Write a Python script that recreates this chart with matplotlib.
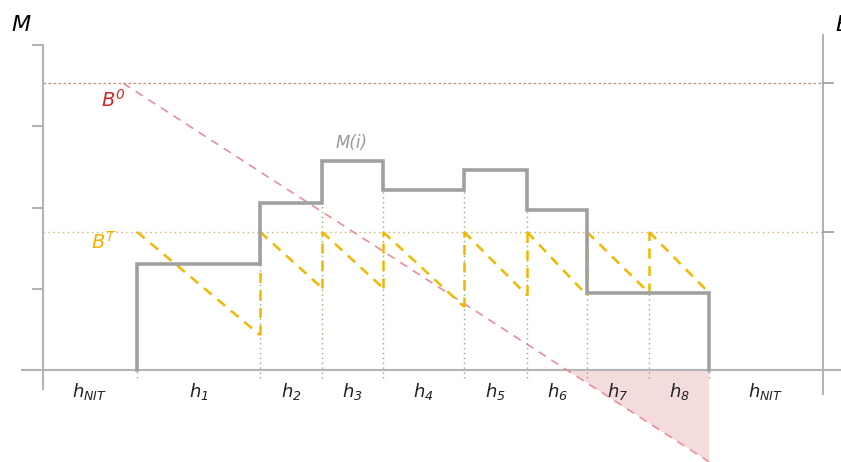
import numpy as np
import matplotlib
matplotlib.use("Agg")
import matplotlib.pyplot as plt

plt.rcParams['mathtext.fontset'] = 'custom'
plt.rcParams['mathtext.rm'] = 'DejaVu Sans:italic'
plt.rcParams['mathtext.it'] = 'DejaVu Sans:italic'
plt.rcParams['mathtext.bf'] = 'DejaVu Sans:bold'
plt.rcParams['mathtext.default'] = 'it'

# ---- data ----
period_labels = [r'$h_{NIT}$', r'$h_1$', r'$h_2$', r'$h_3$', r'$h_4$', r'$h_5$',
                 r'$h_6$', r'$h_7$', r'$h_8$', r'$h_{NIT}$']
period_widths = [9.4, 12.3, 6.2, 6.1, 8.1, 6.3, 6.0, 6.2, 6.0, 11.4]
m_values = [1.30, 2.06, 2.57, 2.22, 2.46, 1.97, 0.95, 0.95]      # M(i) for h1..h8
bt_level = 1.70                                                   # B^T
bt_end = [0.43, 1.01, 1.01, 0.78, 0.92, 0.92, 0.95, 0.95]        # B^T at end of each hour
b0_level = 3.53                                                   # B^0
b0_start_x = 8.0
b0_end_value = -1.13
y_ticks = [1, 2, 3, 4]

# ---- geometry from data ----
bounds = np.concatenate([[0], np.cumsum(period_widths)])
h_start = bounds[1:9]
h_end = bounds[2:10]
x_right = bounds[-1]

fig = plt.figure(figsize=(8.41, 4.62), dpi=100)
ax = fig.add_axes([0, 0, 1, 1])
ax.set_xlim(-4.3, 79.8)
ax.set_ylim(-1.132, 4.554)
ax.axis('off')

axis_col = '#b4b4b4'
# baseline
ax.plot([-2.1, 79.8], [0, 0], color=axis_col, lw=1.5, zorder=2)
# left axis
ax.plot([0, 0], [-0.23, 4.0], color=axis_col, lw=1.5, zorder=2)
for t in y_ticks:
    ax.plot([-1.0, 0], [t, t], color=axis_col, lw=1.5, zorder=2)
# right axis
ax.plot([x_right, x_right], [-0.3, 4.12], color=axis_col, lw=1.5, zorder=2)
for t in [b0_level, bt_level]:
    ax.plot([x_right, x_right + 1.0], [t, t], color='#999999', lw=1.2, zorder=2)

# horizontal reference levels
ax.plot([0, x_right], [b0_level, b0_level], color='#d08a60', lw=0.9,
        linestyle=(0, (2, 2)), zorder=1)
ax.plot([0, x_right], [bt_level, bt_level], color='#d4b070', lw=1.0,
        linestyle=(0, (1, 2.5)), zorder=1)

# green dotted boundaries
for i, xb in enumerate(bounds[1:10]):
    left = m_values[i - 1] if 1 <= i <= 8 else 0
    right = m_values[i] if i < 8 else 0
    top = min(left, right)
    ax.plot([xb, xb], [-0.1, top], color='#8fae78', lw=1.0,
            linestyle=(0, (1, 2.5)), zorder=1)

# B^0 diagonal + pink shortfall area
bx = np.array([b0_start_x, h_end[-1]])
by = np.array([b0_level, b0_end_value])
ax.plot(bx, by, color='#e8909a', lw=1.2, linestyle=(0, (5, 4)), zorder=3)
x_cross = b0_start_x + (0 - b0_level) * (bx[1] - bx[0]) / (by[1] - by[0])
ax.fill([x_cross, h_end[-1], h_end[-1]], [0, 0, b0_end_value],
        color='#f5dcdc', lw=0, zorder=0)

# B^T sawtooth
gold = '#f2b800'
for i in range(8):
    ax.plot([h_start[i], h_end[i]], [bt_level, bt_end[i]], color=gold, lw=1.8,
            linestyle=(0, (4, 3)), zorder=4)
    if i < 7:
        ax.plot([h_end[i], h_end[i]], [bt_end[i], bt_level], color=gold, lw=1.8,
                linestyle=(0, (4, 3)), zorder=4)

# M(i) step
sx = [h_start[0]]
sy = [0]
for i in range(8):
    sx += [h_start[i], h_end[i]]
    sy += [m_values[i], m_values[i]]
sx.append(h_end[-1])
sy.append(0)
ax.plot(sx, sy, color='#a0a0a0', lw=2.6, solid_joinstyle='miter', zorder=5)

# labels
mid = (bounds[:-1] + bounds[1:]) / 2
for x, lab in zip(mid, period_labels):
    ax.text(x, -0.27, lab, ha='center', va='center', fontsize=13, color='#222222')

ax.text(-3.2, 4.25, 'M', fontsize=16, style='italic', color='black',
        ha='left', va='center')
ax.text(79.2, 4.25, 'B', fontsize=16, style='italic', color='black',
        ha='left', va='center')
ax.text(5.8, 3.32, r'$B^0$', fontsize=14, color='#cc2a2a', ha='left', va='center')
ax.text(4.8, 1.58, r'$B^T$', fontsize=14, color='#f0b400', ha='left', va='center')
ax.text(30.9, 2.79, 'M(i)', fontsize=12, style='italic', color='#999999',
        ha='center', va='center')

fig.savefig('out.png', dpi=100)
